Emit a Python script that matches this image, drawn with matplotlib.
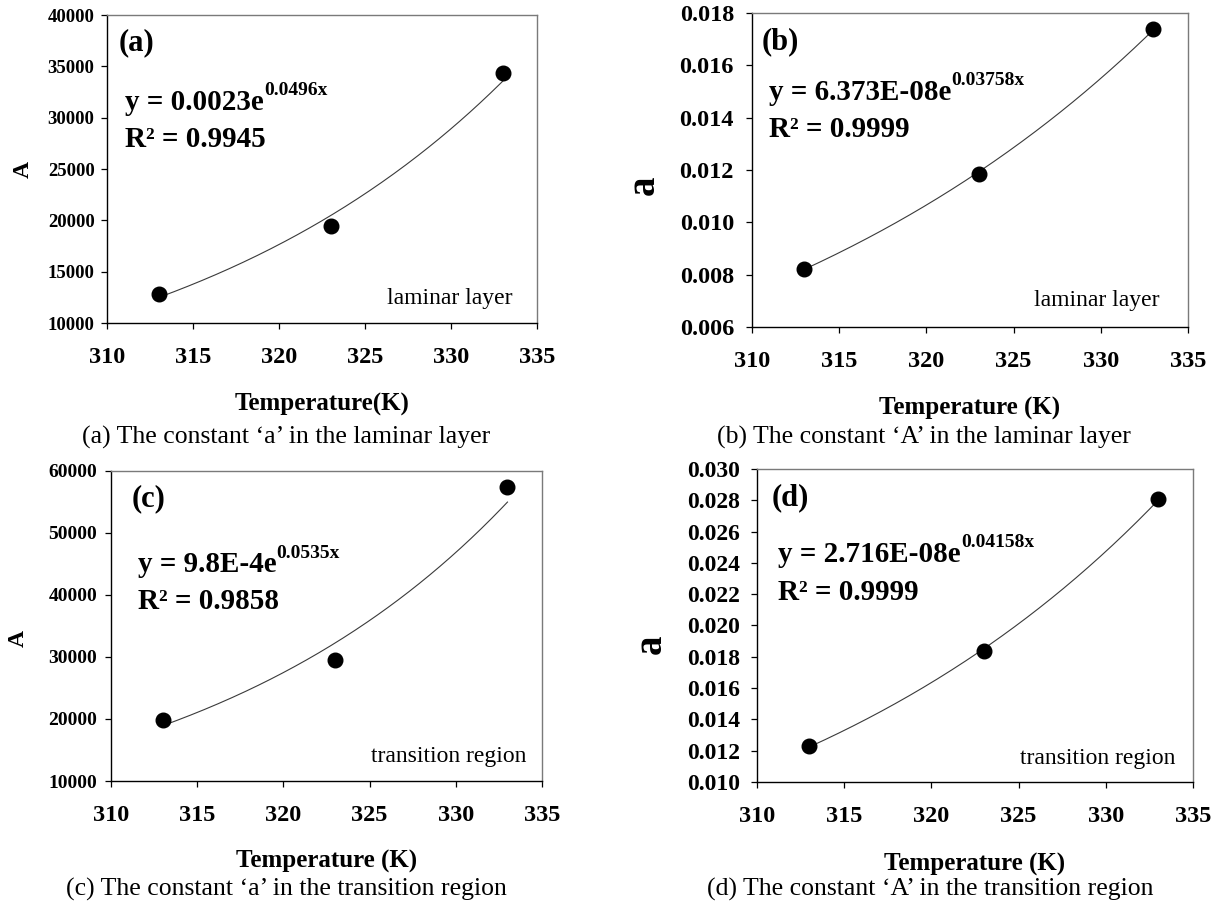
import numpy as np
import matplotlib
matplotlib.use("Agg")
from matplotlib import pyplot as plt

plt.rcParams['font.family'] = ['Liberation Serif', 'DejaVu Serif']

# temperatures (K)
temps = [313, 323, 333]

A_laminar = [12800, 19500, 34400]
a_laminar = [0.00823, 0.01186, 0.01740]
A_transition = [19760, 29580, 57420]
a_transition = [0.01228, 0.01840, 0.02809]

# fitted equation texts as printed on the panels
eq_a = ("y = 0.0023e", "0.0496x", "R\u00b2 = 0.9945")
eq_b = ("y = 6.373E-08e", "0.03758x", "R\u00b2 = 0.9999")
eq_c = ("y = 9.8E-4e", "0.0535x", "R\u00b2 = 0.9858")
eq_d = ("y = 2.716E-08e", "0.04158x", "R\u00b2 = 0.9999")

captions = ["(a) The constant \u2018a\u2019 in the laminar layer",
            "(b) The constant \u2018A\u2019 in the laminar layer",
            "(c) The constant \u2018a\u2019 in the transition region",
            "(d) The constant \u2018A\u2019 in the transition region"]


def draw_panel(rect, y, ylim, ystep, yfmt, ylab, ylab_size, ylab_pos, tag, eq,
               eq_pos, region, region_pos, xlab, xlab_y, ytick_size, ytick_pad):
    ax = fig.add_axes(rect)
    x = np.array(temps, dtype=float)
    y = np.array(y, dtype=float)

    # exponential trendline, same as Excel (least squares on ln y)
    k, c = np.polyfit(x, np.log(y), 1)
    xs = np.linspace(x.min(), x.max(), 200)
    ax.plot(xs, np.exp(c + k * xs), color='#3a3a3a', lw=0.8, zorder=2)
    ax.plot(x, y, 'o', color='black', ms=10.5, zorder=3)

    ax.set_xlim(310, 335)
    ax.set_ylim(*ylim)
    ax.set_xticks(np.arange(310, 336, 5))
    ax.set_yticks(np.arange(ylim[0], ylim[1] + ystep / 2, ystep))
    ax.yaxis.set_major_formatter(matplotlib.ticker.FormatStrFormatter(yfmt))

    for s in ['left', 'bottom']:
        ax.spines[s].set_color('black')
        ax.spines[s].set_linewidth(1.0)
    for s in ['top', 'right']:
        ax.spines[s].set_color('#7a7a7a')
        ax.spines[s].set_linewidth(1.0)

    ax.tick_params(axis='x', direction='out', length=4, width=0.9,
                   labelsize=17.5, pad=13)
    ax.tick_params(axis='y', direction='out', length=4, width=0.9,
                   labelsize=ytick_size, pad=ytick_pad)
    for lbl in ax.get_xticklabels() + ax.get_yticklabels():
        lbl.set_fontweight('bold')

    ax.set_xlabel(xlab, fontsize=18, fontweight='bold')
    ax.xaxis.set_label_coords(0.5, xlab_y)
    ax.set_ylabel(ylab, fontsize=ylab_size, fontweight='bold')
    ax.yaxis.set_label_coords(*ylab_pos)

    ax.text(eq_pos[0] - 0.015, 0.885, tag, transform=ax.transAxes,
            fontsize=22, fontweight='bold', va='baseline')
    t = ax.text(eq_pos[0], eq_pos[1], eq[0], transform=ax.transAxes,
                fontsize=21, fontweight='bold', va='baseline')
    ax.annotate(eq[1], xy=(1.0, 0.62), xycoords=t, fontsize=14,
                fontweight='bold', va='bottom', ha='left')
    ax.text(eq_pos[0], eq_pos[2], eq[2], transform=ax.transAxes,
            fontsize=21, fontweight='bold', va='baseline')
    ax.text(region_pos[0], region_pos[1], region, transform=ax.transAxes,
            fontsize=17, ha='right', va='baseline')
    return ax


fig = plt.figure(figsize=(12.22, 9.11), dpi=100)

draw_panel([0.0876, 0.6454, 0.352, 0.338], A_laminar, (10000, 40000), 5000,
           '%d', 'A', 17, (-0.17, 0.50), '(a)', eq_a, (0.042, 0.693, 0.573),
           'laminar layer', (0.943, 0.061), 'Temperature(K)', -0.227, 13.5, 5)

draw_panel([0.6154, 0.641, 0.3568, 0.3447], a_laminar, (0.006, 0.018), 0.002,
           '%.3f', 'a', 28, (-0.205, 0.45), '(b)', eq_b, (0.038, 0.724, 0.605),
           'laminar layer', (0.935, 0.066), 'Temperature (K)', -0.223, 17.5, 9)

draw_panel([0.0908, 0.1427, 0.3527, 0.3403], A_transition, (10000, 60000), 10000,
           '%d', 'A', 17, (-0.19, 0.46), '(c)', eq_c, (0.062, 0.673, 0.555),
           'transition region', (0.965, 0.061), 'Temperature (K)', -0.223, 14, 6)

draw_panel([0.6195, 0.1416, 0.3568, 0.3436], a_transition, (0.010, 0.030), 0.002,
           '%.3f', 'a', 28, (-0.20, 0.44), '(d)', eq_d, (0.049, 0.704, 0.582),
           'transition region', (0.96, 0.059), 'Temperature (K)', -0.227, 17, 8)

fig.text(286 / 1222, 1 - 437 / 911, captions[0], fontsize=18.5, ha='center', va='center')
fig.text(924 / 1222, 1 - 437 / 911, captions[1], fontsize=18.5, ha='center', va='center')
fig.text(286 / 1222, 1 - 889 / 911, captions[2], fontsize=18.5, ha='center', va='center')
fig.text(930 / 1222, 1 - 889 / 911, captions[3], fontsize=18.5, ha='center', va='center')

fig.savefig('out.png', dpi=100)
